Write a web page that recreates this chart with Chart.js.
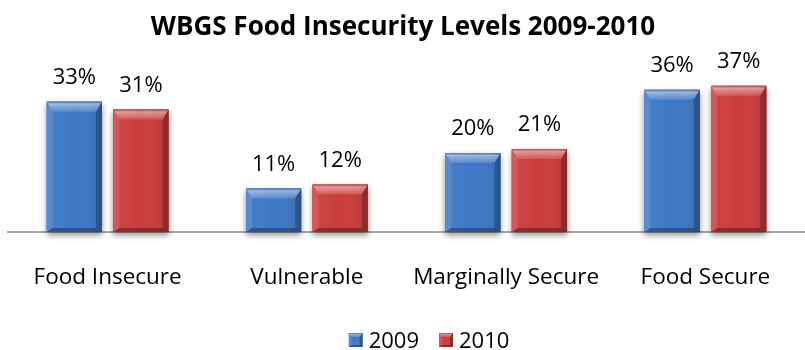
<!DOCTYPE html>
<html>
<head>
<meta charset="utf-8">
<script src="https://cdn.jsdelivr.net/npm/chart.js@4"></script>
<style>
  html, body { margin: 0; padding: 0; background: #fff; overflow: hidden; }
</style>
</head>
<body>
<canvas id="foodChart" width="805" height="350"></canvas>
<script>
// chart data
const chartTitle = "WBGS Food Insecurity Levels 2009-2010";
const categories = ["Food Insecure", "Vulnerable", "Marginally Secure", "Food Secure"];
const seriesNames = ["2009", "2010"];
const values2009 = [33, 11, 20, 36];
const values2010 = [31, 12, 21, 37];
const seriesColors = ["#3d77c5", "#cb3c3c"];

const fontFamily = "'Open Sans', sans-serif";
const textColor = "#000000";

// beveled box: light top edge, dark right and bottom edges
function drawBevel(ctx, l, t, r, b, color, bt, bs, bb) {
    ctx.save();
    ctx.fillStyle = color;
    ctx.fillRect(l, t, r - l, b - t);

    // soft horizontal shading across the body
    var body = ctx.createLinearGradient(l, 0, r, 0);
    body.addColorStop(0, "rgba(255,255,255,0.06)");
    body.addColorStop(0.5, "rgba(255,255,255,0)");
    body.addColorStop(1, "rgba(0,0,0,0.10)");
    ctx.fillStyle = body;
    ctx.fillRect(l, t, r - l, b - t);

    // top bevel
    var top = ctx.createLinearGradient(0, t, 0, t + bt);
    top.addColorStop(0, "rgba(255,255,255,0.15)");
    top.addColorStop(0.25, "rgba(255,255,255,0.45)");
    top.addColorStop(1, "rgba(255,255,255,0.12)");
    ctx.fillStyle = top;
    ctx.beginPath();
    ctx.moveTo(l, t); ctx.lineTo(r, t); ctx.lineTo(r - bs, t + bt); ctx.lineTo(l + bs, t + bt);
    ctx.closePath(); ctx.fill();

    // left bevel
    ctx.fillStyle = "rgba(255,255,255,0.10)";
    ctx.beginPath();
    ctx.moveTo(l, t); ctx.lineTo(l + bs, t + bt); ctx.lineTo(l + bs, b - bb); ctx.lineTo(l, b);
    ctx.closePath(); ctx.fill();

    // right bevel
    ctx.fillStyle = "rgba(0,0,0,0.24)";
    ctx.beginPath();
    ctx.moveTo(r, t); ctx.lineTo(r, b); ctx.lineTo(r - bs, b - bb); ctx.lineTo(r - bs, t + bt);
    ctx.closePath(); ctx.fill();

    // bottom bevel
    ctx.fillStyle = "rgba(0,0,0,0.30)";
    ctx.beginPath();
    ctx.moveTo(l, b); ctx.lineTo(r, b); ctx.lineTo(r - bs, b - bb); ctx.lineTo(l + bs, b - bb);
    ctx.closePath(); ctx.fill();

    // thin dark outline on top
    ctx.fillStyle = "rgba(0,0,0,0.18)";
    ctx.fillRect(l, t, r - l, 1);
    ctx.restore();
}

// shadow under each bar, drawn before the bars
const barShadows = {
    id: "barShadows",
    beforeDatasetsDraw(chart) {
        const ctx = chart.ctx;
        chart.data.datasets.forEach(function (ds, i) {
            chart.getDatasetMeta(i).data.forEach(function (bar) {
                ctx.save();
                ctx.shadowColor = "rgba(0,0,0,0.45)";
                ctx.shadowBlur = 6;
                ctx.shadowOffsetY = 3;
                ctx.fillStyle = ds.backgroundColor;
                ctx.fillRect(bar.x - bar.width / 2, bar.y, bar.width, bar.base - bar.y);
                ctx.restore();
            });
        });
    }
};

// bevel overlay and the percentage above every bar
const barBevels = {
    id: "barBevels",
    afterDatasetsDraw(chart) {
        const ctx = chart.ctx;
        chart.data.datasets.forEach(function (ds, i) {
            chart.getDatasetMeta(i).data.forEach(function (bar, j) {
                var l = bar.x - bar.width / 2, r = bar.x + bar.width / 2;
                drawBevel(ctx, l, bar.y, r, bar.base, ds.backgroundColor, 10, 6, 4);
                ctx.save();
                ctx.font = "22px " + fontFamily;
                ctx.fillStyle = textColor;
                ctx.textAlign = "center";
                ctx.textBaseline = "alphabetic";
                ctx.fillText(ds.data[j] + "%", bar.x, bar.y - 18);
                ctx.restore();
            });
        });
    }
};

// title and legend drawn at fixed spots of the canvas
const titleAndLegend = {
    id: "titleAndLegend",
    afterDraw(chart) {
        const ctx = chart.ctx;
        ctx.save();
        ctx.fillStyle = textColor;
        ctx.font = "bold 26px " + fontFamily;
        ctx.textAlign = "center";
        ctx.textBaseline = "alphabetic";
        ctx.fillText(chartTitle, 403, 35);

        ctx.font = "22px " + fontFamily;
        ctx.textAlign = "left";
        var box = 14, gap = 6, spacing = 20;
        var widths = chart.data.datasets.map(function (ds) { return box + gap + ctx.measureText(ds.label).width; });
        var total = widths.reduce(function (a, b) { return a + b; }, 0) + spacing * (widths.length - 1);
        var x = 429 - total / 2;
        chart.data.datasets.forEach(function (ds, i) {
            drawBevel(ctx, x, 333, x + box, 333 + box, ds.backgroundColor, 4, 3, 2);
            ctx.fillStyle = textColor;
            ctx.fillText(ds.label, x + box + gap, 348);
            x += widths[i] + spacing;
        });
        ctx.restore();
    }
};

new Chart(document.getElementById("foodChart"), {
    type: "bar",
    data: {
        labels: categories,
        datasets: [
            { label: seriesNames[0], data: values2009, backgroundColor: seriesColors[0], borderWidth: 0 },
            { label: seriesNames[1], data: values2010, backgroundColor: seriesColors[1], borderWidth: 0 }
        ]
    },
    options: {
        responsive: false,
        animation: false,
        devicePixelRatio: 1,
        categoryPercentage: 0.668,
        barPercentage: 0.83,
        layout: { padding: { left: 8, right: -12, top: 74, bottom: 27 } },
        plugins: {
            legend: { display: false },
            title: { display: false },
            tooltip: { enabled: false }
        },
        scales: {
            x: {
                grid: { display: false, drawTicks: false },
                border: { display: true, color: "#a6a6a6", width: 2 },
                ticks: { color: textColor, padding: 32, font: { family: fontFamily, size: 22.5 } }
            },
            y: {
                display: false,
                min: 0,
                max: 40
            }
        }
    },
    plugins: [barShadows, barBevels, titleAndLegend]
});
</script>
</body>
</html>
